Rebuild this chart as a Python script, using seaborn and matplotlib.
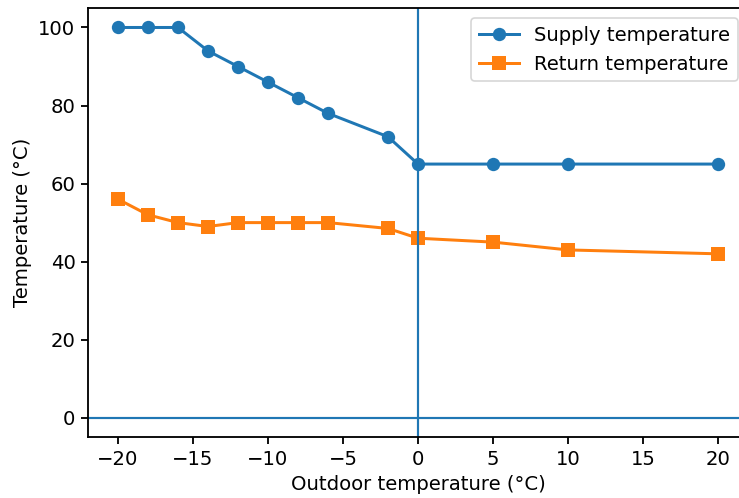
import seaborn as sns
import matplotlib.pyplot as plt
import pandas as pd

outdoor_temp = [-20, -18, -16, -14, -12, -10, -8, -6, -2, 0, 5, 10, 20]
supply_temp = [100, 100, 100, 94, 90, 86, 82, 78, 72, 65, 65, 65, 65]
return_temp = [56, 52, 50, 49, 50, 50, 50, 50, 48.5, 46, 45, 43, 42]

df = pd.DataFrame({
    "outdoor": outdoor_temp,
    "supply": supply_temp,
    "return": return_temp,
})

fig, ax = plt.subplots(figsize=(6.16, 4.15), dpi=120)
sns.lineplot(data=df, x="outdoor", y="supply", marker="o", markersize=8,
             markeredgewidth=0, color="#1f77b4", linewidth=1.8,
             label="Supply temperature", ax=ax)
sns.lineplot(data=df, x="outdoor", y="return", marker="s", markersize=8,
             markeredgewidth=0, color="#ff7f0e", linewidth=1.8,
             label="Return temperature", ax=ax)
ax.axhline(0, color="#1f77b4", linewidth=1.3)
ax.axvline(0, color="#1f77b4", linewidth=1.3)

ax.set_xlabel("Outdoor temperature (°C)", fontsize=11.8)
ax.set_ylabel("Temperature (°C)", fontsize=11.8)
ax.tick_params(labelsize=11.8, width=1.1, length=4)
for sp in ax.spines.values():
    sp.set_linewidth(1.1)
ax.legend(loc="upper right", fontsize=11.8)

# the reference is cropped just before the right spine
fig.subplots_adjust(left=0.119, right=1.012, top=0.984, bottom=0.122)
fig.savefig("out.png", dpi=120)
